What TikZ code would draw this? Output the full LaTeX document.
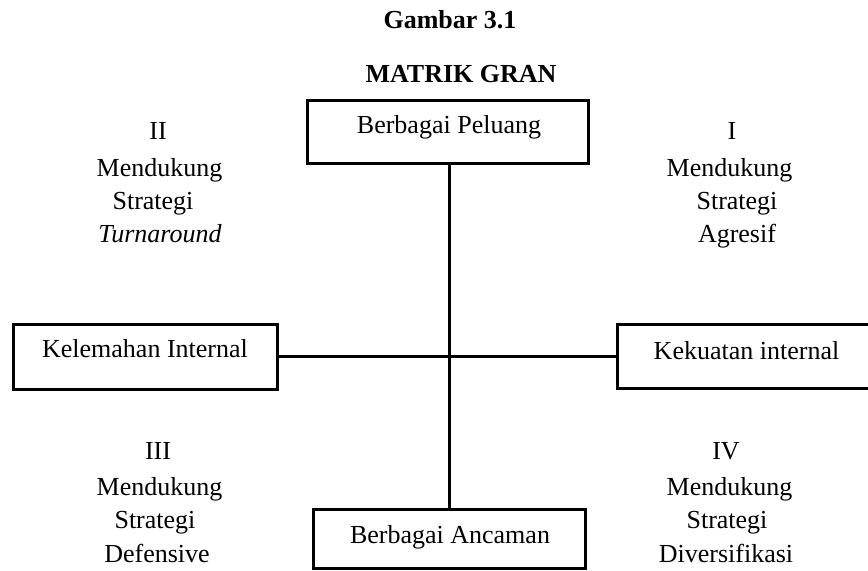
\documentclass[tikz,border=0pt]{standalone}
\usepackage{fontspec}
\setmainfont{Liberation Serif}
\begin{document}
\begin{tikzpicture}[x=0.5pt,y=-0.5pt,
  box/.style={draw, line width=1.5pt, inner sep=0pt},
  txt/.style={anchor=base, inner sep=0pt, font=\fontsize{13}{15}\selectfont},
  ttl/.style={anchor=base, inner sep=0pt, font=\fontsize{13}{15}\selectfont\bfseries},
  conn/.style={line width=1.5pt}]
\useasboundingbox (0,0) rectangle (868,570);
\clip (0,0) rectangle (868,570);
% titles
\node[ttl] (t1) at (450,28.5) {Gambar 3.1};
\node[ttl] (t2) at (461,82) {MATRIK GRAN};
% boxes
\node[box, minimum width=140.5pt, minimum height=31.5pt] (top) at (447.5,131.5) {};
\node[box, minimum width=132pt, minimum height=32.5pt] (left) at (145,356.5) {};
\node[box, minimum width=129.5pt, minimum height=32pt] (right) at (746.5,356) {};
\node[box, minimum width=136pt, minimum height=29.5pt] (bot) at (449,538.5) {};
% box texts
\node[txt] (toptxt) at (449,133.5) {Berbagai Peluang};
\node[txt] (lefttxt) at (145,357.5) {Kelemahan Internal};
\node[txt] (righttxt) at (746.5,359.5) {Kekuatan internal};
\node[txt] (bottxt) at (450,543.5) {Berbagai Ancaman};
% connectors
\draw[conn] (bot.north) -- (bot.north |- top.south);
\draw[conn] (left.east) -- (left.east -| right.west);
% quadrant II
\node[txt] (q2a) at (158,139) {II};
\node[txt] (q2b) at (159.5,176) {Mendukung};
\node[txt] (q2c) at (153,209) {Strategi};
\node[txt] (q2d) at (160,242) {\itshape Turnaround};
% quadrant I
\node[txt] (q1a) at (732,139) {I};
\node[txt] (q1b) at (729.5,176) {Mendukung};
\node[txt] (q1c) at (737,209) {Strategi};
\node[txt] (q1d) at (737,242.5) {Agresif};
% quadrant III
\node[txt] (q3a) at (158,459) {III};
\node[txt] (q3b) at (159.5,495) {Mendukung};
\node[txt] (q3c) at (155,528) {Strategi};
\node[txt] (q3d) at (157,562.5) {Defensive};
% quadrant IV
\node[txt] (q4a) at (726,459) {IV};
\node[txt] (q4b) at (729.5,495) {Mendukung};
\node[txt] (q4c) at (727,528) {Strategi};
\node[txt] (q4d) at (726,562.5) {Diversifikasi};
\end{tikzpicture}
\end{document}
